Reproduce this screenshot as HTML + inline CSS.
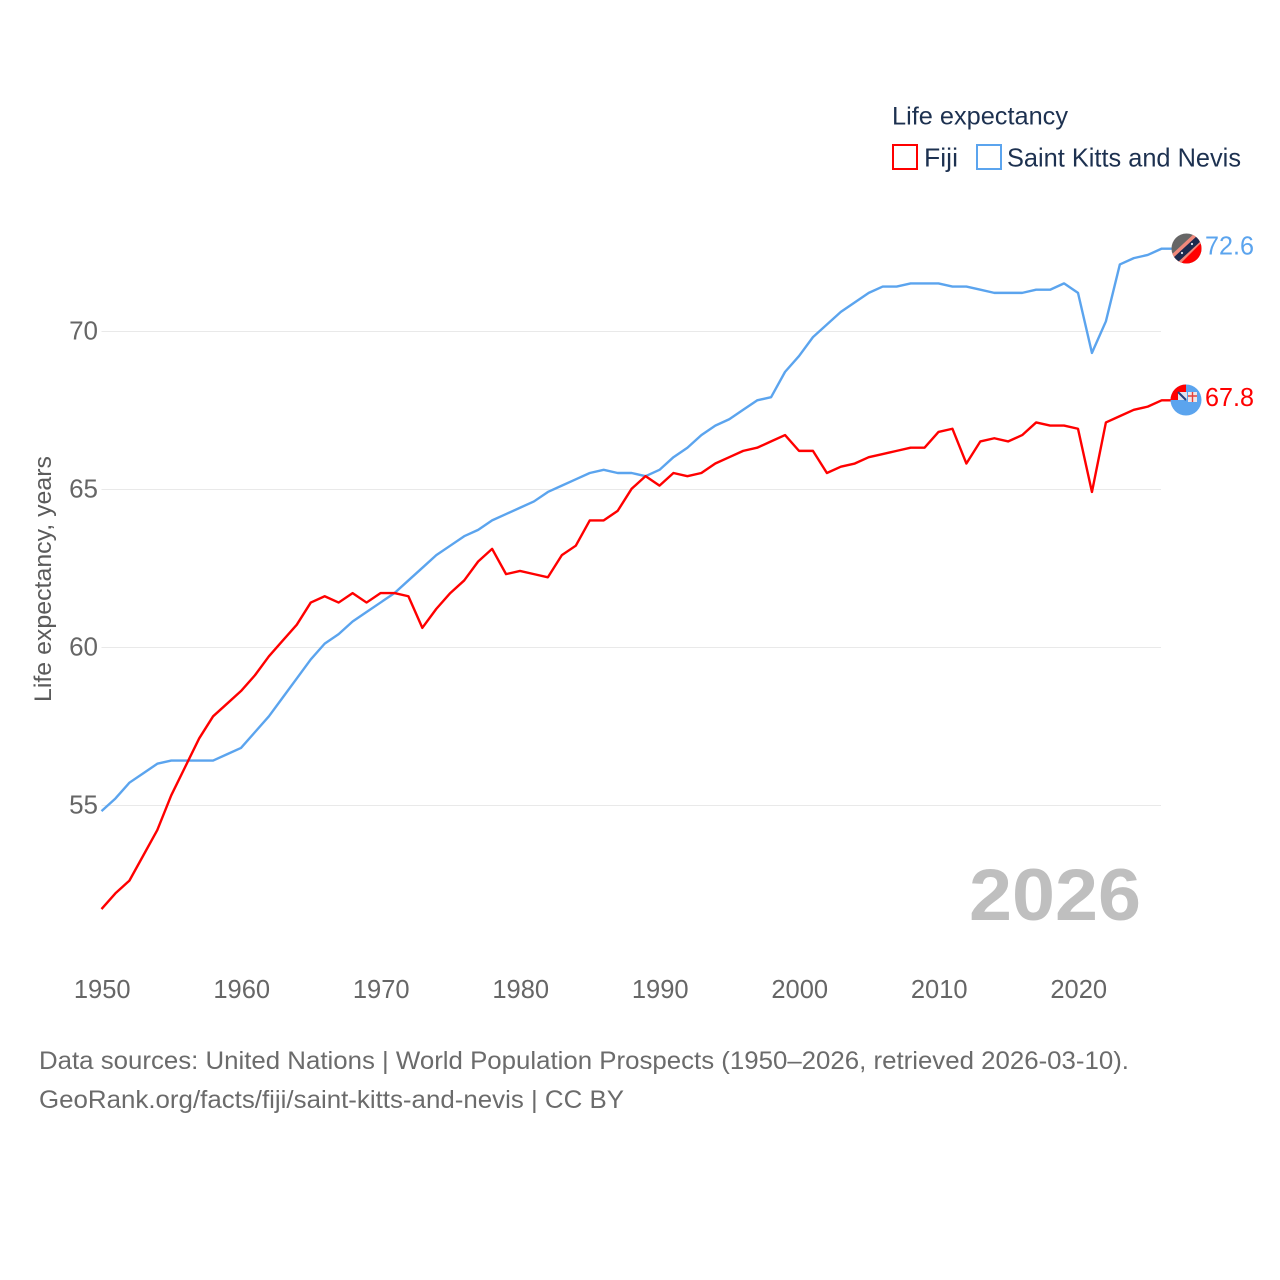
<!DOCTYPE html>
<html lang="en">
<head>
<meta charset="utf-8">
<title>Life expectancy: Fiji and Saint Kitts and Nevis</title>
<style>
html,body{margin:0;padding:0;background:#fff;width:1280px;height:1280px;overflow:hidden}
svg{display:block}
text{font-family:"Liberation Sans",sans-serif}
</style>
</head>
<body>
<svg id="chart" width="1280" height="1280" viewBox="0 0 1280 1280" xmlns="http://www.w3.org/2000/svg">
  <defs>
    <clipPath id="clip-skn"><circle cx="1186.5" cy="248.5" r="15"/></clipPath>
    <clipPath id="clip-fiji"><circle cx="1186" cy="400" r="15.5"/></clipPath>
  </defs>
  <g id="grid"></g>
  <g id="y-ticks"></g>
  <g id="x-ticks"></g>
  <text transform="translate(51,702) rotate(-90)" font-size="24" fill="#5b5b5b" textLength="246" lengthAdjust="spacingAndGlyphs">Life expectancy, years</text>
  <text x="969" y="920" font-size="73" font-weight="700" fill="#bfbfbf" textLength="172" lengthAdjust="spacingAndGlyphs">2026</text>
  <g id="series"></g>

  <g>
    <text x="892" y="124.5" font-size="25" fill="#1d3150" textLength="176" lengthAdjust="spacingAndGlyphs">Life expectancy</text>
    <rect x="893" y="145" width="24" height="24" fill="#fff" stroke="#ff0000" stroke-width="2"/>
    <text x="924" y="166.5" font-size="26" fill="#1d3150" textLength="34" lengthAdjust="spacingAndGlyphs">Fiji</text>
    <rect x="977" y="145" width="24" height="24" fill="#fff" stroke="#5ba4ee" stroke-width="2"/>
    <text x="1007" y="166.5" font-size="26" fill="#1d3150" textLength="234" lengthAdjust="spacingAndGlyphs">Saint Kitts and Nevis</text>
  </g>

  <g clip-path="url(#clip-skn)">
    <rect x="1170" y="232" width="34" height="34" fill="#666666"/>
    <polygon points="1172,266 1204,266 1204,232" fill="#ff0000"/>
    <polygon points="1170,256 1196,232 1204,240 1178,266" fill="#f0897c"/>
    <polygon points="1173,258 1198,235 1202,240 1177,263" fill="#1b2a4e"/>
    <circle cx="1182" cy="253" r="1.1" fill="#dfe6ee"/>
    <circle cx="1192" cy="244" r="1.1" fill="#dfe6ee"/>
  </g>
  <g clip-path="url(#clip-fiji)">
    <rect x="1170" y="384" width="32" height="33" fill="#5ba4ee"/>
    <rect x="1170" y="384" width="16" height="16" fill="#ff0000"/>
    <rect x="1178" y="392" width="9" height="8" fill="#dfe3ee"/>
    <path d="M1178 392l8 8" stroke="#24407c" stroke-width="2"/>
    <rect x="1188" y="392" width="9" height="10" fill="#f2e6e6"/>
    <path d="M1192.5 392v10M1188 396h9" stroke="#e5413c" stroke-width="1.4"/>
  </g>

  <g id="end-labels"></g>

  <g>
    <text x="39" y="1069" font-size="25" fill="#6b6b6b" textLength="1090" lengthAdjust="spacingAndGlyphs">Data sources: United Nations | World Population Prospects (1950–2026, retrieved 2026-03-10).</text>
    <text x="39" y="1108" font-size="25" fill="#6b6b6b" textLength="585" lengthAdjust="spacingAndGlyphs">GeoRank.org/facts/fiji/saint-kitts-and-nevis | CC BY</text>
  </g>
</svg>
<script>
const startYear = 1950;
const fijiValues = [51.7,52.2,52.6,53.4,54.2,55.3,56.2,57.1,57.8,58.2,58.6,59.1,59.7,60.2,60.7,61.4,61.6,61.4,61.7,61.4,61.7,61.7,61.6,60.6,61.2,61.7,62.1,62.7,63.1,62.3,62.4,62.3,62.2,62.9,63.2,64.0,64.0,64.3,65.0,65.4,65.1,65.5,65.4,65.5,65.8,66.0,66.2,66.3,66.5,66.7,66.2,66.2,65.5,65.7,65.8,66.0,66.1,66.2,66.3,66.3,66.8,66.9,65.8,66.5,66.6,66.5,66.7,67.1,67.0,67.0,66.9,64.9,67.1,67.3,67.5,67.6,67.8];
const sknValues = [54.8,55.2,55.7,56.0,56.3,56.4,56.4,56.4,56.4,56.6,56.8,57.3,57.8,58.4,59.0,59.6,60.1,60.4,60.8,61.1,61.4,61.7,62.1,62.5,62.9,63.2,63.5,63.7,64.0,64.2,64.4,64.6,64.9,65.1,65.3,65.5,65.6,65.5,65.5,65.4,65.6,66.0,66.3,66.7,67.0,67.2,67.5,67.8,67.9,68.7,69.2,69.8,70.2,70.6,70.9,71.2,71.4,71.4,71.5,71.5,71.5,71.4,71.4,71.3,71.2,71.2,71.2,71.3,71.3,71.5,71.2,69.3,70.3,72.1,72.3,72.4,72.6];
const yTickValues = [55,60,65,70];
const xTickValues = [1950,1960,1970,1980,1990,2000,2010,2020];

const NS = 'http://www.w3.org/2000/svg';
const xScale = function (year) { return 101.5 + (year - 1950) * 13.95; };
const yScale = function (v) { return 331.5 + (70 - v) * 31.6; };
const seriesY = function (v) { return yScale(v) - 0.7; };

function svgEl(tag, parent) {
  const el = document.createElementNS(NS, tag);
  parent.appendChild(el);
  return el;
}

const grid = document.getElementById('grid');
const yTicks = document.getElementById('y-ticks');
yTickValues.forEach(function (v) {
  const line = svgEl('line', grid);
  
  
  line.setAttribute('x1', 101.5);
  line.setAttribute('x2', 1161);
  line.setAttribute('y1', yScale(v));
  line.setAttribute('y2', yScale(v));
  line.setAttribute('stroke', '#e9e9e9');
  line.setAttribute('stroke-width', 1);
  const label = svgEl('text', yTicks);
  
  
  label.setAttribute('x', 98);
  label.setAttribute('y', yScale(v) + 8);
  label.setAttribute('text-anchor', 'end');
  label.setAttribute('font-size', 26);
  label.setAttribute('fill', '#666666');
  label.textContent = String(v);
});

const xTicks = document.getElementById('x-ticks');
xTickValues.forEach(function (year) {
  const label = svgEl('text', xTicks);
  
  
  label.setAttribute('x', xScale(year) + 0.7);
  label.setAttribute('y', 998);
  label.setAttribute('text-anchor', 'middle');
  label.setAttribute('font-size', 25.5);
  label.setAttribute('fill', '#666666');
  label.textContent = String(year);
});

function drawSeries(values, color, name) {
  const pts = values.map(function (v, i) {
    return xScale(startYear + i).toFixed(2) + ',' + seriesY(v).toFixed(2);
  });
  const last = values[values.length - 1];
  pts.push('1172,' + seriesY(last).toFixed(2));
  const line = svgEl('polyline', document.getElementById('series'));
  
  
  line.setAttribute('points', pts.join(' '));
  line.setAttribute('fill', 'none');
  line.setAttribute('stroke', color);
  line.setAttribute('stroke-width', 2.4);
  line.setAttribute('stroke-linejoin', 'round');
}
drawSeries(sknValues, '#5ba4ee', 'series-line-saint-kitts-and-nevis');
drawSeries(fijiValues, '#ff0000', 'series-line-fiji');

function drawEndLabel(values, color, name) {
  const last = values[values.length - 1];
  const label = svgEl('text', document.getElementById('end-labels'));
  
  
  label.setAttribute('x', 1205);
  label.setAttribute('y', yScale(last) + 5);
  label.setAttribute('font-size', 25.5);
  label.setAttribute('fill', color);
  label.setAttribute('textLength', 49);
  label.setAttribute('lengthAdjust', 'spacingAndGlyphs');
  label.textContent = last.toFixed(1);
}
drawEndLabel(sknValues, '#5ba4ee', 'end-label-saint-kitts-and-nevis');
drawEndLabel(fijiValues, '#ff0000', 'end-label-fiji');
</script>
</body>
</html>
